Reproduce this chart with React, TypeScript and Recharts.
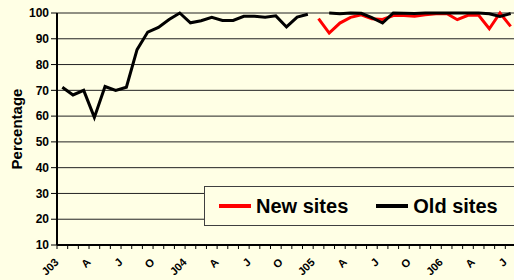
import { LineChart, Line, XAxis, YAxis, CartesianGrid, Legend } from "recharts";

const months = [
  "J03", "F", "M", "A", "M", "J", "J", "A", "S", "O", "N", "D",
  "J04", "F", "M", "A", "M", "J", "J", "A", "S", "O", "N", "D",
  "J05", "F", "M", "A", "M", "J", "J", "A", "S", "O", "N", "D",
  "J06", "F", "M", "A", "M", "J", "J",
];

const newSites = [
  null, null, null, null, null, null, null, null, null, null, null, null,
  null, null, null, null, null, null, null, null, null, null, null, null,
  97.8, 92.2, 96.1, 98.3, 99.3, 97.8, 97.5, 99, 99, 98.7, 99.3, 99.7,
  99.8, 97.4, 99.1, 99.1, 93.9, 100, 94.8,
];

const oldSites = [
  71.2, 68.2, 70, 59.5, 71.5, 70, 71.2, 85.8, 92.6, 94.4, 97.5, 100,
  96.2, 97, 98.3, 97.1, 97.1, 98.7, 98.7, 98.4, 98.9, 94.6, 98.4, 99.5,
  null, 100, 99.7, 100, 99.9, 98.2, 96.1, 100, 99.9, 99.8, 100, 100,
  100, 100, 100, 100, 99.7, 98.7, 99.8,
];

const yTicks = [10, 20, 30, 40, 50, 60, 70, 80, 90, 100];

const data = months.map((m, i) => ({ idx: i, month: m, newSites: newSites[i], oldSites: oldSites[i] }));
const boundaries = [...months.map((_, i) => i - 0.5), months.length - 0.5];

const BG = "#FFFFE5";
const PLOT_W = 459;
const HALF = PLOT_W / months.length / 2;

function MonthTick(props: any) {
  const { x, y, payload } = props;
  const c = Math.round(payload.value + 0.5);
  const label = c < months.length && c % 3 === 0 ? months[c] : null;
  return (
    <g>
      <line x1={x} x2={x} y1={y} y2={y + 4} stroke="#000" />
      {label && (
        <text
          transform={`translate(${x + HALF - 3},${y + 18}) rotate(-45)`}
          textAnchor="end"
          fontSize={11}
          fontWeight="bold"
          fill="#000"
        >
          {label}
        </text>
      )}
    </g>
  );
}

function LegendBox({ payload }: any) {
  return (
    <div
      style={{
        boxSizing: "border-box",
        width: 330,
        height: 40,
        border: "1px solid #404040",
        background: BG,
        display: "flex",
        alignItems: "center",
        paddingLeft: 14,
      }}
    >
      {(payload || []).map((p: any, i: number) => (
        <div key={p.value} style={{ display: "flex", alignItems: "center", marginLeft: i ? 28 : 0 }}>
          <div style={{ width: 32, height: 3.5, background: p.color, marginRight: 5 }} />
          <span style={{ fontSize: 20, fontWeight: "bold", color: "#000" }}>{p.value}</span>
        </div>
      ))}
    </div>
  );
}

export default function App() {
  return (
    <div
      style={{
        position: "absolute",
        left: 0,
        top: 0,
        width: 514,
        height: 280,
        overflow: "hidden",
        background: BG,
        fontFamily: "'Liberation Sans', Arial, sans-serif",
      }}
    >
      <LineChart width={530} height={280} data={data} margin={{ top: 13, right: 14, bottom: 0, left: 0 }}>
        <CartesianGrid vertical={false} stroke="#222" />
        <XAxis
          dataKey="idx"
          type="number"
          domain={[-0.5, months.length - 0.5]}
          ticks={boundaries}
          interval={0}
          height={35}
          tickLine={false}
          tickSize={0}
          tickMargin={0}
          tick={<MonthTick />}
          axisLine={{ stroke: "#000", strokeWidth: 2 }}
        />
        <YAxis
          domain={[10, 100]}
          ticks={yTicks}
          interval={0}
          width={57}
          tickSize={6}
          tickMargin={2}
          tick={{ fill: "#000", fontSize: 12, fontWeight: "bold" }}
          tickLine={{ stroke: "#000" }}
          axisLine={{ stroke: "#000", strokeWidth: 2 }}
          label={{
            value: "Percentage",
            angle: -90,
            position: "insideLeft",
            offset: 17,
            style: { textAnchor: "middle", fontSize: 15, fontWeight: "bold", fill: "#000" },
          }}
        />
        <Legend
          layout="vertical"
          align="center"
          verticalAlign="middle"
          content={<LegendBox />}
          wrapperStyle={{ left: 204, top: 186, width: 330 }}
        />
        <Line
          dataKey="newSites"
          name="New sites"
          stroke="#FF0000"
          strokeWidth={3}
          dot={false}
          isAnimationActive={false}
        />
        <Line
          dataKey="oldSites"
          name="Old sites"
          stroke="#000"
          strokeWidth={3}
          dot={false}
          isAnimationActive={false}
        />
      </LineChart>
    </div>
  );
}
